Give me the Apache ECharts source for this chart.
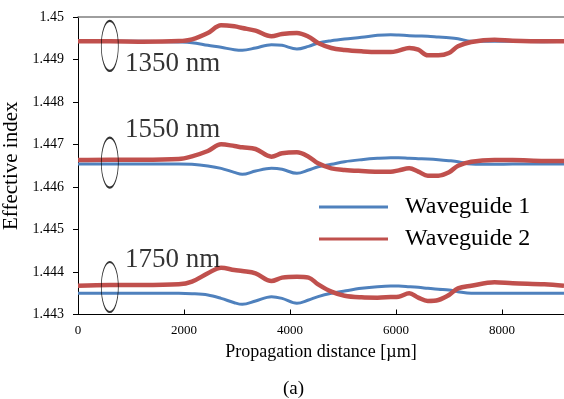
<!DOCTYPE html>
<html>
<head>
<meta charset="utf-8">
<script src="https://cdn.jsdelivr.net/npm/echarts@6/dist/echarts.min.js"></script>
<style>
  html, body { margin: 0; padding: 0; background: #fff; }
  #chart { width: 564px; height: 399px; }
</style>
</head>
<body>
<div id="chart"></div>
<script>
// propagation distance [µm], shared by every curve
const distance = [0, 600, 1200, 1900, 2150, 2450, 2700, 2950, 3100, 3350, 3650, 3850, 4130, 4350, 4530, 4780,
  5030, 5350, 5650, 5900, 6050, 6250, 6420, 6600, 6800, 7000, 7170, 7420, 7860, 8200, 8800, 9170];

// 1350 nm
const wg1_1350 = [1.449427, 1.449427, 1.449427, 1.449412, 1.449396, 1.449333, 1.449286, 1.449231, 1.449216, 1.449271,
  1.449349, 1.449333, 1.449247, 1.449310, 1.449388, 1.449443, 1.449482, 1.449522, 1.449569, 1.449584, 1.449576,
  1.449561, 1.449553, 1.449545, 1.449529, 1.449514, 1.449490, 1.449427, 1.449427, 1.449427, 1.449420, 1.449427];
const wg2_1350 = [1.449427, 1.449427, 1.449420, 1.449435, 1.449475, 1.449624, 1.449804, 1.449780, 1.449741, 1.449678,
  1.449545, 1.449600, 1.449624, 1.449537, 1.449388, 1.449271, 1.449224, 1.449192, 1.449176, 1.449176, 1.449208,
  1.449271, 1.449231, 1.449098, 1.449098, 1.449153, 1.449310, 1.449412, 1.449467, 1.449443, 1.449427, 1.449427];

// 1550 nm
const wg1_1550 = [1.446541, 1.446541, 1.446541, 1.446541, 1.446533, 1.446494, 1.446439, 1.446345, 1.446298, 1.446376,
  1.446439, 1.446416, 1.446322, 1.446400, 1.446478, 1.446533, 1.446596, 1.446643, 1.446675, 1.446690, 1.446690,
  1.446675, 1.446667, 1.446659, 1.446643, 1.446620, 1.446596, 1.446541, 1.446533, 1.446541, 1.446541, 1.446541];
const wg2_1550 = [1.446635, 1.446643, 1.446643, 1.446659, 1.446722, 1.446847, 1.447004, 1.446965, 1.446933, 1.446894,
  1.446714, 1.446792, 1.446816, 1.446714, 1.446557, 1.446439, 1.446400, 1.446376, 1.446361, 1.446361, 1.446392,
  1.446439, 1.446361, 1.446267, 1.446267, 1.446345, 1.446502, 1.446596, 1.446635, 1.446635, 1.446612, 1.446612];

// 1750 nm
const wg1_1750 = [1.443498, 1.443498, 1.443498, 1.443498, 1.443490, 1.443459, 1.443380, 1.443278, 1.443239, 1.443318,
  1.443420, 1.443380, 1.443263, 1.443341, 1.443420, 1.443498, 1.443553, 1.443616, 1.443655, 1.443671, 1.443671,
  1.443655, 1.443639, 1.443616, 1.443592, 1.443576, 1.443537, 1.443498, 1.443498, 1.443498, 1.443498, 1.443498];
const wg2_1750 = [1.443678, 1.443694, 1.443694, 1.443710, 1.443773, 1.443969, 1.444102, 1.444047, 1.444024, 1.443969,
  1.443788, 1.443867, 1.443890, 1.443867, 1.443710, 1.443537, 1.443443, 1.443404, 1.443396, 1.443412, 1.443420,
  1.443498, 1.443396, 1.443318, 1.443341, 1.443459, 1.443616, 1.443678, 1.443757, 1.443733, 1.443710, 1.443678];

// wavelength labels and the ellipse markers at the input end
const wavelengthLabels = ["1350 nm", "1550 nm", "1750 nm"];
const labelPos = [[887, 1.448895], [887, 1.447342], [887, 1.444295]];
const ellipsePos = [[600, 1.449318], [600, 1.446576], [600, 1.443647]];

const yTicks = ["1.443", "1.444", "1.445", "1.446", "1.447", "1.448", "1.449", "1.45"];

const FONT = "'Liberation Serif', 'Times New Roman', serif";
const BLUE = "#4F81BD";
const RED = "#C0504D";

const pairs = (ys) => distance.map((d, i) => [d, ys[i]]);

const lineSeries = (name, ys, color, width) => ({
  name: name,
  type: "line",
  data: pairs(ys),
  smooth: 0.35,
  symbol: "none",
  lineStyle: { color: color, width: width },
  itemStyle: { color: color },
  emphasis: { disabled: true },
  z: name === "Waveguide 2" ? 3 : 2,
});

const chart = echarts.init(document.getElementById("chart"));

const option = {
  animation: false,
  textStyle: { fontFamily: FONT },
  grid: { left: 78, right: 0, top: 17, bottom: 84.5, containLabel: false, outerBoundsMode: "none" },
  legend: {
    data: ["Waveguide 1", "Waveguide 2"],
    orient: "vertical",
    left: 319,
    top: 194,
    padding: 0,
    icon: "rect",
    itemWidth: 69,
    itemHeight: 3,
    itemGap: 6,
    textStyle: { fontFamily: FONT, fontSize: 24, lineHeight: 26, color: "#000", padding: [0, 0, 0, 12] },
  },
  title: {
    text: "(a)",
    left: 283,
    top: 380,
    padding: 0,
    textStyle: { fontFamily: FONT, fontSize: 19, fontWeight: "normal", color: "#000" },
  },
  xAxis: [{
    type: "value",
    min: 0,
    max: 9170,
    interval: 2000,
    name: "Propagation distance [µm]",
    nameLocation: "middle",
    nameGap: 29,
    nameTextStyle: { fontFamily: FONT, fontSize: 18, color: "#000" },
    axisLine: { lineStyle: { color: "#000", width: 1 } },
    axisTick: { inside: true, length: 5, lineStyle: { color: "#000" } },
    axisLabel: {
      margin: 10,
      fontFamily: FONT,
      fontSize: 13,
      color: "#000",
      formatter: (v) => (v % 2000 === 0 ? String(v) : ""),
    },
    splitLine: { show: false },
  }, {
    type: "value",
    position: "top",
    min: 0,
    max: 9170,
    axisLine: { show: true, lineStyle: { color: "#7f7f7f", width: 1.5 } },
    axisTick: { show: false },
    axisLabel: { show: false },
    splitLine: { show: false },
  }],
  yAxis: {
    type: "value",
    min: 1.443,
    max: 1.45,
    interval: 0.001,
    name: "Effective index",
    nameLocation: "middle",
    nameGap: 56,
    nameTextStyle: { fontFamily: FONT, fontSize: 21, color: "#000" },
    axisLine: { show: true, lineStyle: { color: "#000", width: 1 } },
    axisTick: { show: true, inside: false, length: 5, lineStyle: { color: "#000" } },
    axisLabel: {
      margin: 14,
      fontFamily: FONT,
      fontSize: 14,
      color: "#000",
      formatter: (v) => yTicks[Math.round((v - 1.443) / 0.001)],
    },
    splitLine: { show: false },
  },
  series: [
    lineSeries("Waveguide 1", wg1_1350, BLUE, 3),
    lineSeries("Waveguide 1", wg1_1550, BLUE, 3),
    lineSeries("Waveguide 1", wg1_1750, BLUE, 3),
    lineSeries("Waveguide 2", wg2_1350, RED, 4.5),
    lineSeries("Waveguide 2", wg2_1550, RED, 4.5),
    lineSeries("Waveguide 2", wg2_1750, RED, 4.5),
    {
      name: "markers",
      type: "scatter",
      data: ellipsePos,
      symbol: "circle",
      symbolSize: [17, 50],
      itemStyle: { color: "rgba(0,0,0,0)", borderColor: "#000", borderWidth: 1.3 },
      emphasis: { disabled: true },
      z: 5,
    },
    {
      name: "labels",
      type: "scatter",
      data: labelPos.map((p, i) => [p[0], p[1], wavelengthLabels[i]]),
      symbolSize: 0,
      label: {
        show: true,
        position: "right",
        distance: 0,
        formatter: (p) => p.data[2],
        fontFamily: FONT,
        fontSize: 27,
        color: "#000",
      },
      emphasis: { disabled: true },
      z: 5,
    },
  ],
};

chart.setOption(option);
</script>
</body>
</html>
